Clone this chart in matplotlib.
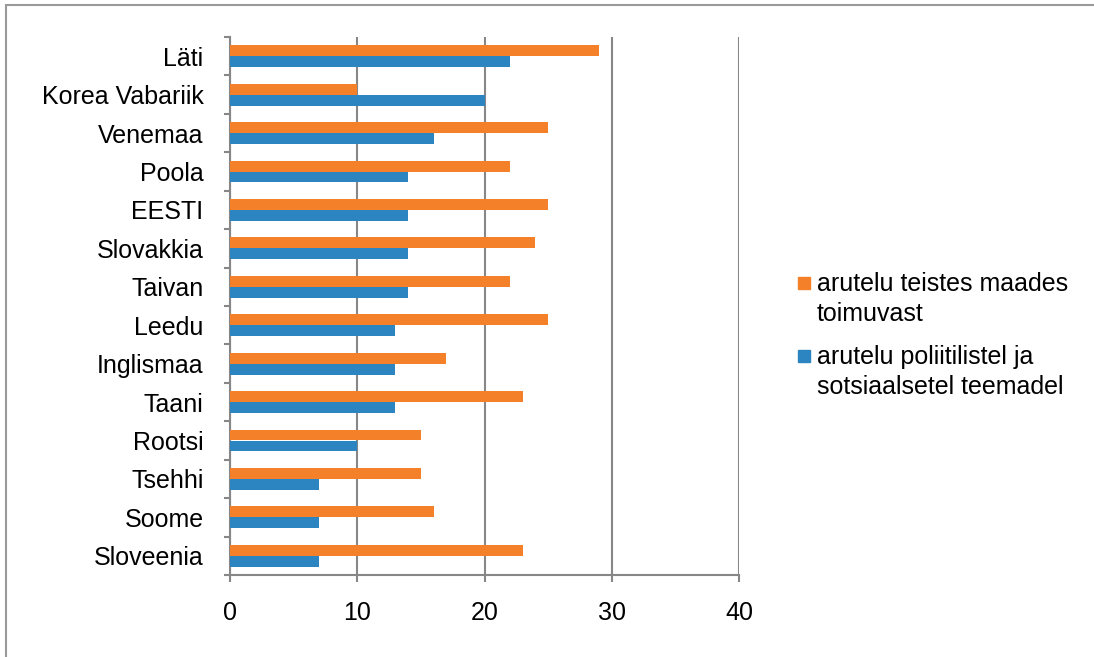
import matplotlib.pyplot as plt
import numpy as np
from matplotlib.patches import Rectangle

plt.rcParams["font.family"] = ["Liberation Sans", "DejaVu Sans"]

countries = ["Läti", "Korea Vabariik", "Venemaa", "Poola", "EESTI", "Slovakkia",
             "Taivan", "Leedu", "Inglismaa", "Taani", "Rootsi", "Tsehhi",
             "Soome", "Sloveenia"]
teistes_maades = [29, 10, 25, 22, 25, 24, 22, 25, 17, 23, 15, 15, 16, 23]
poliitilistel = [22, 20, 16, 14, 14, 14, 14, 13, 13, 13, 10, 7, 7, 7]
x_ticks = [0, 10, 20, 30, 40]

label_orange = "arutelu teistes maades\ntoimuvast"
label_blue = "arutelu poliitilistel ja\nsotsiaalsetel teemadel"

orange = "#F5802A"
blue = "#2C85C1"
grid_col = "#878787"

W, H = 1094, 657
fig = plt.figure(figsize=(W / 100, H / 100), dpi=100)
ax = fig.add_axes([230 / W, 1 - 575 / H, 509 / W, 538 / H])

y = np.arange(len(countries))
h = 0.286
ax.barh(y - h / 2, teistes_maades, height=h, color=orange, zorder=3)
ax.barh(y + h / 2, poliitilistel, height=h, color=blue, zorder=3)

ax.set_xlim(0, 40)
ax.set_ylim(len(countries) - 0.5, -0.5)
ax.set_xticks(x_ticks)
ax.set_yticks(y)
ax.set_yticklabels(countries)
ax.set_yticks(np.arange(len(countries) + 1) - 0.5, minor=True)

ax.grid(axis="x", color=grid_col, linewidth=1.5, zorder=0)
for s in ["top", "right"]:
    ax.spines[s].set_visible(False)
for s in ["left", "bottom"]:
    ax.spines[s].set_color(grid_col)
    ax.spines[s].set_linewidth(1.5)

ax.tick_params(axis="y", which="major", length=0, pad=19, labelsize=18)
ax.tick_params(axis="y", which="minor", length=4, width=1.5, color=grid_col, direction="out")
ax.tick_params(axis="x", length=5, width=1.5, color=grid_col, pad=14, labelsize=18)

# legend: square beside the first line of each two-line label
for col, lab, top in [(orange, label_orange, 277), (blue, label_blue, 350)]:
    fig.patches.append(Rectangle((798 / W, 1 - (top + 12) / H), 12 / W, 12 / H,
                                 transform=fig.transFigure, color=col))
    fig.text(817 / W, 1 - (top - 5) / H, lab, fontsize=18, va="top",
             linespacing=1.29)

fig.patches.append(Rectangle((6 / W, -0.1), 1.2, 1 - 5 / H + 0.1,
                             transform=fig.transFigure, fill=False,
                             edgecolor="#9A9A9A", linewidth=1.5))

fig.savefig("out.png", dpi=100)
